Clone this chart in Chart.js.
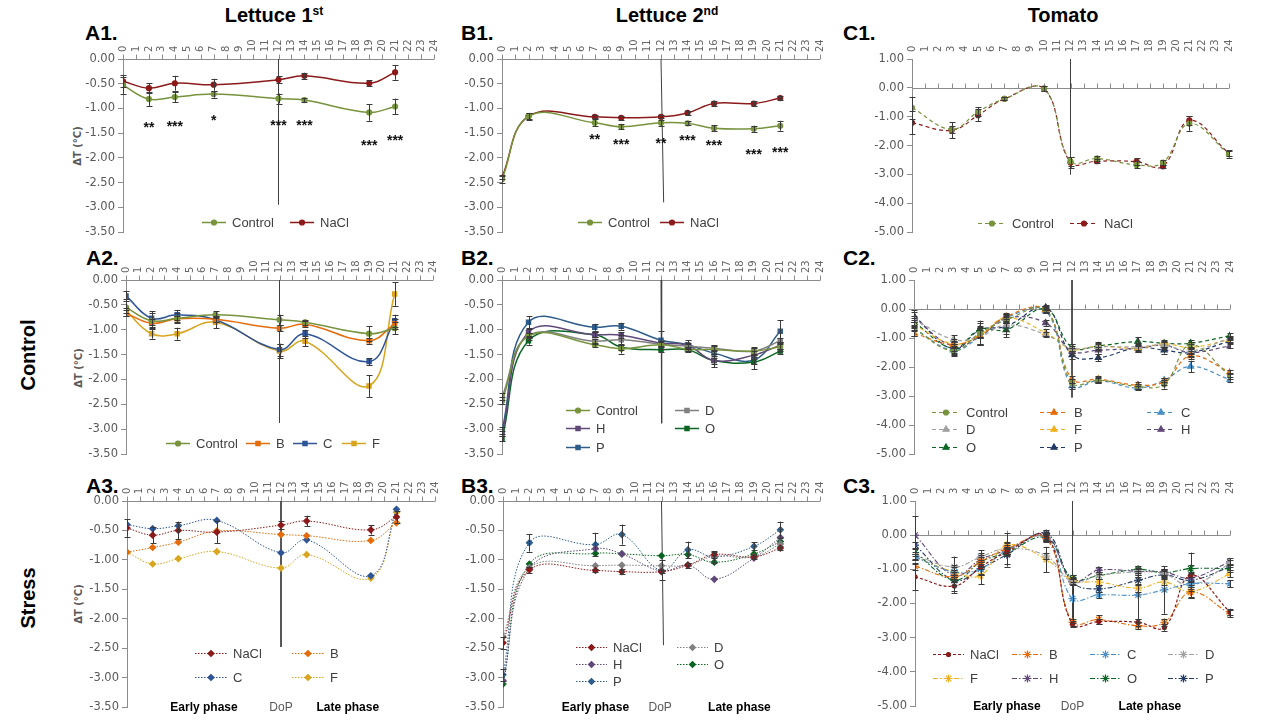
<!DOCTYPE html>
<html><head><meta charset="utf-8">
<script src="https://cdn.jsdelivr.net/npm/chart.js@4.4.1/dist/chart.umd.min.js"></script>
<style>
html,body{margin:0;padding:0;background:#fff}
body{width:1280px;height:720px;position:relative;overflow:hidden;font-family:'Liberation Sans',Arial,sans-serif}
.lbl{position:absolute;font-weight:bold;color:#000;white-space:nowrap;line-height:1}
.ctr{transform:translate(-50%,-50%)}
.rot{transform:translate(-50%,-50%) rotate(-90deg)}
.yt{position:absolute;font-family:'DejaVu Sans',sans-serif;font-size:10px;font-weight:bold;color:#595959;white-space:nowrap;transform:translate(-50%,-50%) rotate(-90deg)}
sup{font-size:0.6em;vertical-align:0.55em}
</style></head><body>
<div class="lbl ctr" style="left:274px;top:15px;font-size:20px">Lettuce 1<sup>st</sup></div>
<div class="lbl ctr" style="left:667px;top:15px;font-size:20px">Lettuce 2<sup>nd</sup></div>
<div class="lbl ctr" style="left:1063px;top:15px;font-size:20px">Tomato</div>
<div class="lbl" style="left:85px;top:22px;font-size:21px">A1.</div>
<div class="lbl" style="left:461px;top:22px;font-size:21px">B1.</div>
<div class="lbl" style="left:843px;top:22px;font-size:21px">C1.</div>
<div class="lbl" style="left:86px;top:247px;font-size:21px">A2.</div>
<div class="lbl" style="left:461px;top:247px;font-size:21px">B2.</div>
<div class="lbl" style="left:843px;top:247px;font-size:21px">C2.</div>
<div class="lbl" style="left:86px;top:475px;font-size:21px">A3.</div>
<div class="lbl" style="left:461px;top:475px;font-size:21px">B3.</div>
<div class="lbl" style="left:843px;top:475px;font-size:21px">C3.</div>
<div class="lbl rot" style="left:28px;top:355px;font-size:20px">Control</div>
<div class="lbl rot" style="left:28px;top:598px;font-size:20px">Stress</div>
<div class="yt" style="left:77px;top:146px">ΔT (°C)</div>
<div class="yt" style="left:78px;top:368px">ΔT (°C)</div>
<div class="yt" style="left:78px;top:604px">ΔT (°C)</div>
<script>
// ---------------- DATA ----------------
const L1_DAYS = [0, 2, 4, 7, 12, 14, 19, 21];
const L2_DAYS = [0, 2, 7, 9, 12, 14, 16, 19, 21];
const T_DAYS  = [0, 3, 5, 7, 10, 12, 14, 17, 19, 21, 24];
const LEGEND_NAMES = ['Control', 'NaCl', 'B', 'C', 'D', 'F', 'H', 'O', 'P'];
const PHASE_TEXT = ['Early phase', 'DoP', 'Late phase'];

// A1 Lettuce 1st
const A1_CONTROL = [-0.53, -0.81, -0.77, -0.71, -0.80, -0.83, -1.08, -0.96];
const A1_CONTROL_ERR = [0.17, 0.14, 0.10, 0.07, 0.10, 0.04, 0.17, 0.16];
const A1_NACL = [-0.45, -0.59, -0.49, -0.52, -0.42, -0.34, -0.49, -0.27];
const A1_NACL_ERR = [0.12, 0.10, 0.15, 0.12, 0.07, 0.06, 0.06, 0.15];
const A1_SIG_X = [2, 4, 7, 12, 14, 19, 21];
const A1_SIG_Y = [-1.31, -1.29, -1.18, -1.28, -1.28, -1.68, -1.57];
const A1_SIG_TXT = ['**', '***', '*', '***', '***', '***', '***'];
const A1_DOP_X = [12, 12];
const A1_DOP_Y = [0, -2.94];

// B1 Lettuce 2nd
const B1_CONTROL = [-2.43, -1.16, -1.29, -1.37, -1.29, -1.30, -1.40, -1.41, -1.35];
const B1_CONTROL_ERR = [0.07, 0.07, 0.07, 0.05, 0.06, 0.04, 0.06, 0.06, 0.10];
const B1_NACL = [-2.39, -1.16, -1.17, -1.19, -1.17, -1.09, -0.90, -0.90, -0.79];
const B1_NACL_ERR = [0.04, 0.06, 0.03, 0.04, 0.03, 0.04, 0.06, 0.05, 0.04];
const B1_SIG_X = [7, 9, 12, 14, 16, 19, 21];
const B1_SIG_Y = [-1.55, -1.66, -1.63, -1.57, -1.68, -1.86, -1.81];
const B1_SIG_TXT = ['**', '***', '**', '***', '***', '***', '***'];
const B1_DOP_X = [12, 12.2];
const B1_DOP_Y = [0, -2.9];

// C1 Tomato
const C1_CONTROL = [-0.69, -1.44, -0.83, -0.38, -0.03, -2.55, -2.45, -2.67, -2.59, -1.24, -2.30];
const C1_CONTROL_ERR = [0.38, 0.12, 0.15, 0.05, 0.08, 0.15, 0.10, 0.12, 0.08, 0.25, 0.12];
const C1_NACL = [-1.21, -1.47, -0.95, -0.38, -0.03, -2.59, -2.54, -2.56, -2.72, -1.13, -2.27];
const C1_NACL_ERR = [0.40, 0.28, 0.20, 0.05, 0.08, 0.18, 0.06, 0.12, 0.05, 0.15, 0.10];
const C1_DOP_X = [12, 12];
const C1_DOP_Y = [1, -3.0];

// A2
const A2_CONTROL = [-0.55, -0.82, -0.77, -0.70, -0.80, -0.85, -1.08, -0.97];
const A2_CONTROL_ERR = [0.17, 0.15, 0.10, 0.07, 0.10, 0.05, 0.15, 0.12];
const A2_B = [-0.67, -0.87, -0.78, -0.79, -0.97, -0.89, -1.22, -0.88];
const A2_B_ERR = [0.06, 0.08, 0.06, 0.06, 0.06, 0.06, 0.06, 0.10];
const A2_C = [-0.32, -0.77, -0.70, -0.80, -1.40, -1.08, -1.64, -0.82];
const A2_C_ERR = [0.10, 0.14, 0.10, 0.05, 0.12, 0.08, 0.07, 0.12];
const A2_F = [-0.62, -1.08, -1.08, -0.85, -1.43, -1.23, -2.13, -0.28];
const A2_F_ERR = [0.05, 0.10, 0.12, 0.12, 0.14, 0.10, 0.22, 0.24];
const A2_DOP_X = [12, 12];
const A2_DOP_Y = [0, -2.87];

// B2
const B2_CONTROL = [-2.43, -1.13, -1.30, -1.38, -1.30, -1.39, -1.40, -1.43, -1.34];
const B2_CONTROL_ERR = [0.07, 0.07, 0.04, 0.10, 0.08, 0.04, 0.08, 0.08, 0.08];
const B2_D = [-2.35, -1.12, -1.23, -1.20, -1.29, -1.33, -1.37, -1.43, -1.22];
const B2_D_ERR = [0.07, 0.05, 0.05, 0.10, 0.05, 0.05, 0.06, 0.06, 0.06];
const B2_H = [-3.08, -1.05, -1.10, -1.11, -1.27, -1.31, -1.62, -1.51, -1.31];
const B2_H_ERR = [0.05, 0.07, 0.05, 0.06, 0.05, 0.05, 0.06, 0.08, 0.07];
const B2_O = [-3.19, -1.22, -1.10, -1.35, -1.40, -1.40, -1.62, -1.65, -1.43];
const B2_O_ERR = [0.05, 0.08, 0.05, 0.05, 0.05, 0.05, 0.13, 0.14, 0.05];
const B2_P = [-3.03, -0.85, -0.95, -0.93, -1.21, -1.30, -1.47, -1.61, -1.03];
const B2_P_ERR = [0.07, 0.12, 0.07, 0.07, 0.18, 0.09, 0.06, 0.07, 0.22];
const B2_DOP_X = [12, 12.05];
const B2_DOP_Y = [0, -2.88];

// C2
const C2_CONTROL = [-0.69, -1.44, -0.83, -0.38, -0.03, -2.55, -2.45, -2.67, -2.59, -1.24, -2.30];
const C2_CONTROL_ERR = [0.25, 0.15, 0.12, 0.10, 0.10, 0.15, 0.10, 0.10, 0.15, 0.10, 0.10];
const C2_B = [-0.84, -1.22, -0.92, -0.26, -0.03, -2.42, -2.42, -2.62, -2.50, -1.62, -2.17];
const C2_B_ERR = [0.10, 0.12, 0.30, 0.10, 0.08, 0.12, 0.10, 0.12, 0.12, 0.10, 0.08];
const C2_C = [-0.67, -1.42, -0.95, -0.30, -0.07, -2.65, -2.47, -2.72, -2.45, -1.98, -2.43];
const C2_C_ERR = [0.10, 0.12, 0.30, 0.10, 0.08, 0.10, 0.08, 0.08, 0.08, 0.20, 0.08];
const C2_D = [-0.35, -1.05, -0.95, -0.55, -0.88, -1.35, -1.30, -1.30, -1.25, -1.45, -1.00];
const C2_D_ERR = [0.10, 0.15, 0.30, 0.30, 0.10, 0.15, 0.10, 0.10, 0.10, 0.10, 0.08];
const C2_F = [-0.55, -1.20, -0.90, -0.30, -0.82, -1.38, -1.28, -1.35, -1.20, -1.32, -1.05];
const C2_F_ERR = [0.10, 0.15, 0.30, 0.15, 0.12, 0.12, 0.12, 0.12, 0.10, 0.12, 0.08];
const C2_H = [-0.30, -1.28, -0.95, -0.32, -0.48, -1.45, -1.42, -1.35, -1.25, -1.50, -1.27];
const C2_H_ERR = [0.25, 0.15, 0.30, 0.15, 0.10, 0.12, 0.12, 0.10, 0.12, 0.12, 0.08];
const C2_O = [-0.46, -1.35, -0.70, -0.72, 0.00, -1.33, -1.27, -1.12, -1.18, -1.18, -0.92];
const C2_O_ERR = [0.15, 0.15, 0.30, 0.25, 0.10, 0.12, 0.12, 0.15, 0.12, 0.12, 0.08];
const C2_P = [-0.24, -1.38, -0.72, -0.60, 0.05, -1.58, -1.68, -1.33, -1.42, -1.50, -1.10];
const C2_P_ERR = [0.15, 0.25, 0.25, 0.15, 0.10, 0.15, 0.12, 0.15, 0.12, 0.15, 0.08];
const C2_DOP_X = [12, 12];
const C2_DOP_Y = [1, -3.05];

// A3
const A3_NACL = [-0.46, -0.58, -0.50, -0.53, -0.41, -0.34, -0.49, -0.27];
const A3_NACL_ERR = [0.15, 0.14, 0.15, 0.19, 0.07, 0.09, 0.08, 0.10];
const A3_B = [-0.87, -0.79, -0.70, -0.51, -0.57, -0.59, -0.67, -0.37];
const A3_C = [-0.40, -0.47, -0.42, -0.33, -0.88, -0.66, -1.27, -0.14];
const A3_F = [-0.87, -1.07, -0.98, -0.86, -1.14, -0.91, -1.31, -0.19];
const A3_DOP_X = [12, 12];
const A3_DOP_Y = [0, -2.48];
const A3_PHASE_X = [6, 12, 17.2];

// B3
const B3_NACL = [-2.41, -1.17, -1.18, -1.20, -1.20, -1.09, -0.91, -0.95, -0.80];
const B3_NACL_ERR = [0.10, 0.05, 0.03, 0.04, 0.03, 0.04, 0.05, 0.04, 0.04];
const B3_D = [-2.31, -1.13, -1.10, -1.09, -1.10, -1.09, -0.94, -0.95, -0.73];
const B3_H = [-3.05, -1.15, -0.81, -0.90, -1.19, -1.09, -1.33, -0.97, -0.62];
const B3_O = [-3.11, -1.07, -0.89, -0.90, -0.93, -0.91, -1.04, -0.90, -0.69];
const B3_P = [-2.95, -0.71, -0.74, -0.57, -1.18, -0.83, -0.95, -0.77, -0.49];
const B3_P_ERR = [0.10, 0.15, 0.20, 0.17, 0.17, 0.14, 0.10, 0.07, 0.14];
const B3_DOP_X = [12, 12.15];
const B3_DOP_Y = [0, -2.45];
const B3_PHASE_X = [7, 11.9, 17.9];

// C3
const C3_NACL = [-1.22, -1.49, -0.93, -0.49, -0.03, -2.60, -2.53, -2.55, -2.70, -1.18, -2.25];
const C3_NACL_ERR = [0.38, 0.20, 0.20, 0.10, 0.10, 0.10, 0.08, 0.10, 0.10, 0.67, 0.10];
const C3_B = [-0.91, -1.22, -0.78, -0.39, -0.10, -2.55, -2.47, -2.65, -2.55, -1.67, -2.30];
const C3_B_ERR = [0.10, 0.15, 0.20, 0.10, 0.10, 0.10, 0.12, 0.10, 0.10, 0.15, 0.10];
const C3_C = [-0.64, -1.08, -0.98, -0.44, -0.08, -1.86, -1.75, -1.75, -1.60, -1.42, -1.42];
const C3_C_ERR = [0.10, 0.15, 0.20, 0.10, 0.10, 0.70, 0.10, 0.70, 0.70, 0.20, 0.10];
const C3_D = [-0.59, -0.93, -0.64, -0.39, -0.61, -1.37, -1.18, -1.08, -1.13, -1.47, -0.83];
const C3_D_ERR = [0.10, 0.30, 0.20, 0.45, 0.10, 0.10, 0.10, 0.10, 0.10, 0.10, 0.10];
const C3_F = [-0.64, -1.08, -1.18, -0.29, -0.71, -1.32, -1.37, -1.55, -1.37, -1.65, -1.13];
const C3_F_ERR = [0.10, 0.20, 0.25, 0.10, 0.37, 0.10, 0.10, 0.10, 0.10, 0.20, 0.10];
const C3_H = [0.00, -1.18, -0.71, -0.44, -0.02, -1.35, -1.03, -1.06, -1.08, -1.25, -0.78];
const C3_H_ERR = [0.55, 0.15, 0.20, 0.10, 0.10, 0.10, 0.10, 0.10, 0.10, 0.10, 0.10];
const C3_O = [-0.51, -1.32, -0.78, -0.51, -0.08, -1.27, -1.18, -1.00, -1.10, -0.98, -0.98];
const C3_O_ERR = [0.10, 0.15, 0.15, 0.10, 0.10, 0.10, 0.10, 0.10, 0.10, 0.10, 0.10];
const C3_P = [-0.29, -1.32, -0.98, -0.57, 0.05, -1.37, -1.57, -1.32, -1.16, -1.32, -0.93];
const C3_P_ERR = [0.10, 0.30, 0.20, 0.35, 0.10, 0.10, 0.10, 0.10, 0.10, 0.20, 0.10];
const C3_DOP_X = [12, 12];
const C3_DOP_Y = [1, -2.6];
const C3_PHASE_X = [7, 12, 17.9];

// ---------------- STYLE ----------------
const COL = {
  green: '#77933C', red: '#8B1A1A', orange: '#E46C0A', navyA: '#2F5597', gold: '#D9A51E',
  gray: '#808080', purple: '#60497A', dgreen: '#0B6623', blueP: '#2E5D8A',
  lblue: '#4A90C8', lgray: '#A0A0A0', yellow: '#F2B01E', navy: '#1F3864'
};
function pts(days, vals) { return days.map((d, i) => ({ x: d, y: vals[i] })); }
function sty(color, ps, r, dash, w) {
  return { borderColor: color, backgroundColor: color, pointBackgroundColor: color, pointBorderColor: color,
    pointStyle: ps, pointRadius: r, pointBorderWidth: 1.2, borderWidth: w || 1.5, borderDash: dash || [],
    tension: 0.4, fill: false };
}
function ser(label, days, vals, errs, style) {
  return Object.assign({ label: label, data: pts(days, vals), errs: errs || null }, style);
}
function dop(xs, ys) {
  return { label: '', isDop: true, data: xs.map((x, i) => ({ x: x, y: ys[i] })), borderColor: '#404040',
    borderWidth: 1, pointRadius: 0, tension: 0, fill: false };
}
const DASH = [4, 3], DOT = [1.5, 1.5], DASHDOT = [5, 2, 1.5, 2];

// ---------------- PLUGIN ----------------
const extras = {
  id: 'extras',
  beforeDatasetsDraw(chart) {
    const { ctx, chartArea: a } = chart, xs = chart.scales.x, ys = chart.scales.y;
    const y0 = Math.round(ys.getPixelForValue(0)) + 0.5;
    ctx.save();
    ctx.strokeStyle = '#8c8c8c'; ctx.lineWidth = 1;
    ctx.beginPath();
    ctx.moveTo(a.left, y0); ctx.lineTo(a.right, y0);
    for (let v = xs.min; v <= xs.max; v++) {
      const px = Math.round(xs.getPixelForValue(v)) + 0.5;
      ctx.moveTo(px, y0); ctx.lineTo(px, y0 - 5);
    }
    ctx.stroke();
    ctx.restore();
  },
  afterDatasetsDraw(chart) {
    const o = chart.options.plugins.extras || {};
    const { ctx, chartArea: a } = chart, xs = chart.scales.x, ys = chart.scales.y;
    ctx.save();
    // error bars
    chart.data.datasets.forEach((ds, di) => {
      if (!ds.errs) return;
      const meta = chart.getDatasetMeta(di);
      ctx.strokeStyle = '#3a3a3a'; ctx.lineWidth = 1; ctx.setLineDash([]);
      ctx.beginPath();
      ds.data.forEach((p, i) => {
        const e = ds.errs[i]; if (!e) return;
        const px = Math.round(meta.data[i].x) + 0.5;
        const t = ys.getPixelForValue(p.y + e), b = ys.getPixelForValue(p.y - e);
        ctx.moveTo(px, t); ctx.lineTo(px, b);
        ctx.moveTo(px - 3, Math.round(t) + 0.5); ctx.lineTo(px + 3, Math.round(t) + 0.5);
        ctx.moveTo(px - 3, Math.round(b) + 0.5); ctx.lineTo(px + 3, Math.round(b) + 0.5);
      });
      ctx.stroke();
    });
    // significance marks
    if (o.sig) {
      ctx.fillStyle = '#111'; ctx.font = 'bold 14px "Liberation Sans", Arial';
      ctx.textAlign = 'center'; ctx.textBaseline = 'alphabetic';
      o.sig.x.forEach((x, i) => {
        ctx.fillText(o.sig.t[i], xs.getPixelForValue(x), ys.getPixelForValue(o.sig.y[i]) + 8);
      });
    }
    // phase labels
    if (o.phase) {
      ctx.textAlign = 'center'; ctx.textBaseline = 'middle';
      o.phase.x.forEach((x, i) => {
        const isDop = PHASE_TEXT[i] === 'DoP';
        ctx.fillStyle = isDop ? '#595959' : '#000';
        ctx.font = (isDop ? '' : 'bold ') + '12px "Liberation Sans Narrow", "Liberation Sans", Arial';
        ctx.fillText(PHASE_TEXT[i], xs.getPixelForValue(x), a.bottom + 1);
      });
    }
    // legend
    if (o.legend) {
      let k = 0;
      chart.data.datasets.forEach((ds) => {
        if (ds.isDop) return;
        const pos = o.legend.pos[k++]; if (!pos) return;
        const x = a.left + pos[0], y = a.top + pos[1], L = o.legend.len;
        ctx.strokeStyle = ds.borderColor; ctx.lineWidth = ds.borderWidth;
        ctx.setLineDash(ds.borderDash || []);
        ctx.beginPath(); ctx.moveTo(x, y + 0.5); ctx.lineTo(x + L, y + 0.5); ctx.stroke();
        ctx.setLineDash([]);
        ctx.fillStyle = ds.pointBackgroundColor; ctx.strokeStyle = ds.pointBorderColor; ctx.lineWidth = 1.2;
        Chart.helpers.drawPoint(ctx, { pointStyle: ds.pointStyle, radius: ds.pointRadius, rotation: 0, borderWidth: 1.2 }, x + L / 2, y + 0.5);
        ctx.fillStyle = '#404040'; ctx.font = '13px "Liberation Sans", Arial';
        ctx.textAlign = 'left'; ctx.textBaseline = 'middle';
        ctx.fillText(ds.label, x + L + 6, y + 1);
      });
    }
    ctx.restore();
  }
};

// ---------------- PANELS ----------------
const N = LEGEND_NAMES;
const PANELS = [
  { box: [62, 30, 390, 212], area: [123, 59, 434, 233], yr: [-3.5, 0, 0.5],
    ds: [ser(N[0], L1_DAYS, A1_CONTROL, A1_CONTROL_ERR, sty(COL.green, 'circle', 2.5)),
         ser(N[1], L1_DAYS, A1_NACL, A1_NACL_ERR, sty(COL.red, 'circle', 2.5)),
         dop(A1_DOP_X, A1_DOP_Y)],
    sig: { x: A1_SIG_X, y: A1_SIG_Y, t: A1_SIG_TXT },
    legend: { len: 24, pos: [[79, 163], [167, 163]] } },
  { box: [452, 30, 386, 212], area: [502, 59, 820, 233], yr: [-3.5, 0, 0.5],
    ds: [ser(N[0], L2_DAYS, B1_CONTROL, B1_CONTROL_ERR, sty(COL.green, 'circle', 2.5)),
         ser(N[1], L2_DAYS, B1_NACL, B1_NACL_ERR, sty(COL.red, 'circle', 2.5)),
         dop(B1_DOP_X, B1_DOP_Y)],
    sig: { x: B1_SIG_X, y: B1_SIG_Y, t: B1_SIG_TXT },
    legend: { len: 24, pos: [[76, 163], [158, 163]] } },
  { box: [860, 30, 420, 212], area: [912, 59, 1229, 235], yr: [-5, 1, 1],
    ds: [ser(N[0], T_DAYS, C1_CONTROL, C1_CONTROL_ERR, sty(COL.green, 'circle', 2.5, DASH, 1.2)),
         ser(N[1], T_DAYS, C1_NACL, C1_NACL_ERR, sty(COL.red, 'circle', 2.5, DASH, 1.2)),
         dop(C1_DOP_X, C1_DOP_Y)],
    legend: { len: 28, pos: [[66, 164], [158, 164]] } },
  { box: [62, 251, 390, 213], area: [126, 280, 433, 455], yr: [-3.5, 0, 0.5],
    ds: [ser(N[0], L1_DAYS, A2_CONTROL, A2_CONTROL_ERR, sty(COL.green, 'circle', 2.5)),
         ser(N[2], L1_DAYS, A2_B, A2_B_ERR, sty(COL.orange, 'rect', 3)),
         ser(N[3], L1_DAYS, A2_C, A2_C_ERR, sty(COL.navyA, 'rect', 3)),
         ser(N[5], L1_DAYS, A2_F, A2_F_ERR, sty(COL.gold, 'rect', 3)),
         dop(A2_DOP_X, A2_DOP_Y)],
    legend: { len: 24, pos: [[40, 163], [120, 163], [167, 163], [216, 163]] } },
  { box: [452, 251, 386, 213], area: [502, 280, 820, 455], yr: [-3.5, 0, 0.5],
    ds: [ser(N[0], L2_DAYS, B2_CONTROL, B2_CONTROL_ERR, sty(COL.green, 'circle', 2.5)),
         ser(N[4], L2_DAYS, B2_D, B2_D_ERR, sty(COL.gray, 'rect', 3)),
         ser(N[6], L2_DAYS, B2_H, B2_H_ERR, sty(COL.purple, 'rect', 3)),
         ser(N[7], L2_DAYS, B2_O, B2_O_ERR, sty(COL.dgreen, 'rect', 3)),
         ser(N[8], L2_DAYS, B2_P, B2_P_ERR, sty(COL.blueP, 'rect', 3)),
         dop(B2_DOP_X, B2_DOP_Y)],
    legend: { len: 24, pos: [[64, 130], [173, 130], [64, 148], [173, 148], [64, 167]] } },
  { box: [860, 251, 420, 213], area: [914, 280, 1230, 455], yr: [-5, 1, 1],
    ds: [ser(N[0], T_DAYS, C2_CONTROL, C2_CONTROL_ERR, sty(COL.green, 'circle', 2.5, DASH, 1.2)),
         ser(N[2], T_DAYS, C2_B, C2_B_ERR, sty(COL.orange, 'triangle', 3.5, DASH, 1.2)),
         ser(N[3], T_DAYS, C2_C, C2_C_ERR, sty(COL.lblue, 'triangle', 3.5, DASH, 1.2)),
         ser(N[4], T_DAYS, C2_D, C2_D_ERR, sty(COL.lgray, 'triangle', 3.5, DASH, 1.2)),
         ser(N[5], T_DAYS, C2_F, C2_F_ERR, sty(COL.yellow, 'triangle', 3.5, DASH, 1.2)),
         ser(N[6], T_DAYS, C2_H, C2_H_ERR, sty(COL.purple, 'triangle', 3.5, DASH, 1.2)),
         ser(N[7], T_DAYS, C2_O, C2_O_ERR, sty(COL.dgreen, 'triangle', 3.5, DASH, 1.2)),
         ser(N[8], T_DAYS, C2_P, C2_P_ERR, sty(COL.navy, 'triangle', 3.5, DASH, 1.2)),
         dop(C2_DOP_X, C2_DOP_Y)],
    legend: { len: 28, pos: [[18, 132], [126, 132], [233, 132], [18, 149], [126, 149], [233, 149], [18, 167], [126, 167]] } },
  { box: [62, 472, 390, 248], area: [127, 501, 435, 707], yr: [-3.5, 0, 0.5],
    ds: [ser(N[1], L1_DAYS, A3_NACL, A3_NACL_ERR, sty(COL.red, 'rectRot', 3, DOT, 1)),
         ser(N[2], L1_DAYS, A3_B, null, sty(COL.orange, 'rectRot', 3, DOT, 1)),
         ser(N[3], L1_DAYS, A3_C, null, sty(COL.navyA, 'rectRot', 3, DOT, 1)),
         ser(N[5], L1_DAYS, A3_F, null, sty(COL.gold, 'rectRot', 3, DOT, 1)),
         dop(A3_DOP_X, A3_DOP_Y)],
    phase: { x: A3_PHASE_X },
    legend: { len: 32, pos: [[68, 152], [165, 152], [68, 176], [165, 176]] } },
  { box: [452, 472, 386, 248], area: [503, 501, 820, 707], yr: [-3.5, 0, 0.5],
    ds: [ser(N[1], L2_DAYS, B3_NACL, B3_NACL_ERR, sty(COL.red, 'rectRot', 3, DOT, 1)),
         ser(N[4], L2_DAYS, B3_D, null, sty(COL.gray, 'rectRot', 3, DOT, 1)),
         ser(N[6], L2_DAYS, B3_H, null, sty(COL.purple, 'rectRot', 3, DOT, 1)),
         ser(N[7], L2_DAYS, B3_O, null, sty(COL.dgreen, 'rectRot', 3, DOT, 1)),
         ser(N[8], L2_DAYS, B3_P, B3_P_ERR, sty(COL.blueP, 'rectRot', 3, DOT, 1)),
         dop(B3_DOP_X, B3_DOP_Y)],
    phase: { x: B3_PHASE_X },
    legend: { len: 31, pos: [[73, 146], [174, 146], [73, 163], [174, 163], [73, 180]] } },
  { box: [860, 472, 420, 248], area: [915, 501, 1230, 706], yr: [-5, 1, 1],
    ds: [ser(N[1], T_DAYS, C3_NACL, C3_NACL_ERR, sty(COL.red, 'circle', 2, [3, 2], 1.2)),
         ser(N[2], T_DAYS, C3_B, C3_B_ERR, sty(COL.orange, 'star', 4, DASHDOT, 1.1)),
         ser(N[3], T_DAYS, C3_C, C3_C_ERR, sty(COL.lblue, 'star', 4, DASHDOT, 1.1)),
         ser(N[4], T_DAYS, C3_D, C3_D_ERR, sty(COL.lgray, 'star', 4, DASHDOT, 1.1)),
         ser(N[5], T_DAYS, C3_F, C3_F_ERR, sty(COL.yellow, 'star', 4, DASHDOT, 1.1)),
         ser(N[6], T_DAYS, C3_H, C3_H_ERR, sty(COL.purple, 'star', 4, DASHDOT, 1.1)),
         ser(N[7], T_DAYS, C3_O, C3_O_ERR, sty(COL.dgreen, 'star', 4, DASHDOT, 1.1)),
         ser(N[8], T_DAYS, C3_P, C3_P_ERR, sty(COL.navy, 'star', 4, DASHDOT, 1.1)),
         dop(C3_DOP_X, C3_DOP_Y)],
    phase: { x: C3_PHASE_X },
    legend: { len: 31, pos: [[18, 153], [97, 153], [175, 153], [253, 153], [18, 177], [97, 177], [175, 177], [253, 177]] } }
];

function makePanel(p) {
  const cv = document.createElement('canvas');
  cv.width = p.box[2]; cv.height = p.box[3];
  cv.style.cssText = 'position:absolute;left:' + p.box[0] + 'px;top:' + p.box[1] + 'px;width:' + p.box[2] + 'px;height:' + p.box[3] + 'px';
  document.body.appendChild(cv);
  const yW = p.area[0] - p.box[0], xH = p.area[1] - p.box[1];
  const padR = p.box[0] + p.box[2] - p.area[2], padB = p.box[1] + p.box[3] - p.area[3];
  new Chart(cv, {
    type: 'line',
    data: { datasets: p.ds },
    options: {
      responsive: false, animation: false, devicePixelRatio: 1,
      layout: { padding: { left: 0, top: 0, right: padR, bottom: padB } },
      plugins: { legend: { display: false }, tooltip: { enabled: false },
        extras: { sig: p.sig, phase: p.phase, legend: p.legend } },
      scales: {
        x: { type: 'linear', position: 'top', min: 0, max: 24,
          afterFit: (s) => { s.height = xH; },
          grid: { display: false, drawTicks: false }, border: { display: false },
          ticks: { stepSize: 1, autoSkip: false, minRotation: 90, maxRotation: 90, padding: 7, labelOffset: 12,
            color: '#666', font: { family: 'DejaVu Sans', size: 10 } } },
        y: { type: 'linear', position: 'left', min: p.yr[0], max: p.yr[1],
          afterFit: (s) => { s.width = yW; },
          grid: { display: true, drawOnChartArea: false, drawTicks: true, tickLength: 5, color: '#8c8c8c' },
          border: { display: true, color: '#8c8c8c' },
          ticks: { stepSize: p.yr[2], padding: 3, color: '#595959', font: { family: 'DejaVu Sans', size: 11.5 },
            callback: (v) => Number(v).toFixed(2) } }
      }
    },
    plugins: [extras]
  });
}
PANELS.forEach(makePanel);
</script>
</body></html>
